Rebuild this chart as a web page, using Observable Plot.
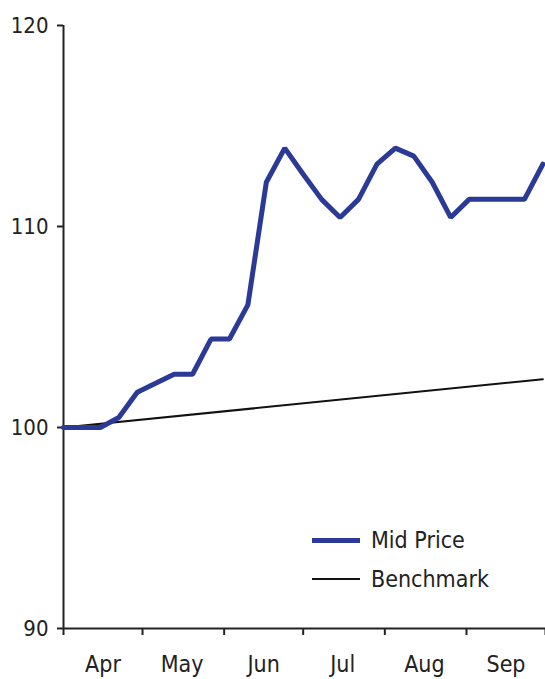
<!DOCTYPE html>
<html>
<head>
<meta charset="utf-8">
<script src="https://cdn.jsdelivr.net/npm/d3@7"></script>
<script src="https://cdn.jsdelivr.net/npm/@observablehq/plot@0.6"></script>
<style>
  html, body { margin: 0; padding: 0; background: #fff; }
  #wrap { position: relative; width: 545px; height: 679px; font-family: "DejaVu Sans Condensed", "DejaVu Sans", sans-serif; color: #222; }
  .leg { position: absolute; left: 312px; display: flex; align-items: center; font-size: 23px; white-space: nowrap; }
  .leg .sw { width: 48px; margin-right: 11px; }
</style>
</head>
<body>
<div id="wrap"></div>
<script>
// Weekly observation dates
const dates = [
  "2006-04-01","2006-04-08","2006-04-15","2006-04-22","2006-04-29",
  "2006-05-06","2006-05-13","2006-05-20","2006-05-27",
  "2006-06-03","2006-06-10","2006-06-17","2006-06-24",
  "2006-07-01","2006-07-08","2006-07-15","2006-07-22","2006-07-29",
  "2006-08-05","2006-08-12","2006-08-19","2006-08-26",
  "2006-09-02","2006-09-09","2006-09-16","2006-09-23","2006-09-30"
];
// Mid Price series
const midPrice = [
  100, 100, 100, 100.5, 101.75,
  102.2, 102.65, 102.65, 104.4,
  104.4, 106.1, 112.2, 113.9,
  112.6, 111.35, 110.45, 111.35, 113.1,
  113.9, 113.5, 112.2, 110.45,
  111.35, 111.35, 111.35, 111.35, 113.1
];
// Benchmark series (straight line)
const benchDates = ["2006-04-01", "2006-09-30"];
const benchmark = [100, 102.4];

// Axis ticks
const yTicks = [90, 100, 110, 120];
const monthStarts = ["2006-04-01","2006-05-01","2006-06-01","2006-07-01","2006-08-01","2006-09-01","2006-10-01"];
const monthMids = ["2006-04-16","2006-05-16","2006-06-16","2006-07-16","2006-08-16","2006-09-16"];
const monthLabels = ["Apr","May","Jun","Jul","Aug","Sep"];

const seriesNames = ["Mid Price", "Benchmark"];
const seriesColors = ["#2b3a96", "#111111"];

const toDate = s => new Date(s + "T00:00:00Z");
const midData = dates.map((d, i) => ({date: toDate(d), value: midPrice[i]}));
const benchData = benchDates.map((d, i) => ({date: toDate(d), value: benchmark[i]}));

const chart = Plot.plot({
  width: 545,
  height: 679,
  marginLeft: 63,
  marginTop: 25,
  marginBottom: 51,
  marginRight: 0,
  style: {fontFamily: '"DejaVu Sans Condensed", "DejaVu Sans", sans-serif', fontSize: "22px", color: "#222", background: "#fff", overflow: "visible"},
  x: {type: "utc", domain: [toDate(monthStarts[0]), toDate(monthStarts[monthStarts.length - 1])]},
  y: {domain: [90, 120]},
  marks: [
    Plot.axisY({ticks: yTicks, tickSize: 6, tickPadding: 9, strokeWidth: 2, label: null, fontSize: 22}),
    Plot.axisX({ticks: monthStarts.map(toDate), tickSize: 7, tickFormat: () => "", strokeWidth: 2, label: null}),
    Plot.axisX({ticks: monthMids.map(toDate), tickSize: 0, tickPadding: 27, tickFormat: (d, i) => monthLabels[i], label: null, fontSize: 23}),
    Plot.ruleX([toDate(monthStarts[0])], {stroke: "#222", strokeWidth: 2}),
    Plot.ruleY([90], {stroke: "#222", strokeWidth: 2}),
    Plot.line(benchData, {x: "date", y: "value", stroke: seriesColors[1], strokeWidth: 2}),
    Plot.line(midData, {x: "date", y: "value", stroke: seriesColors[0], strokeWidth: 5, strokeLinejoin: "miter"})
  ]
});

const wrap = document.getElementById("wrap");
wrap.appendChild(chart);

const legTops = [524, 563];
const legThick = [5, 2];
seriesNames.forEach((name, i) => {
  const row = document.createElement("div");
  row.className = "leg";
  row.style.top = legTops[i] + "px";
  row.style.height = "32px";
  const sw = document.createElement("span");
  sw.className = "sw";
  sw.style.height = legThick[i] + "px";
  sw.style.background = seriesColors[i];
  const t = document.createElement("span");
  t.textContent = name;
  row.appendChild(sw);
  row.appendChild(t);
  wrap.appendChild(row);
});
</script>
</body>
</html>
